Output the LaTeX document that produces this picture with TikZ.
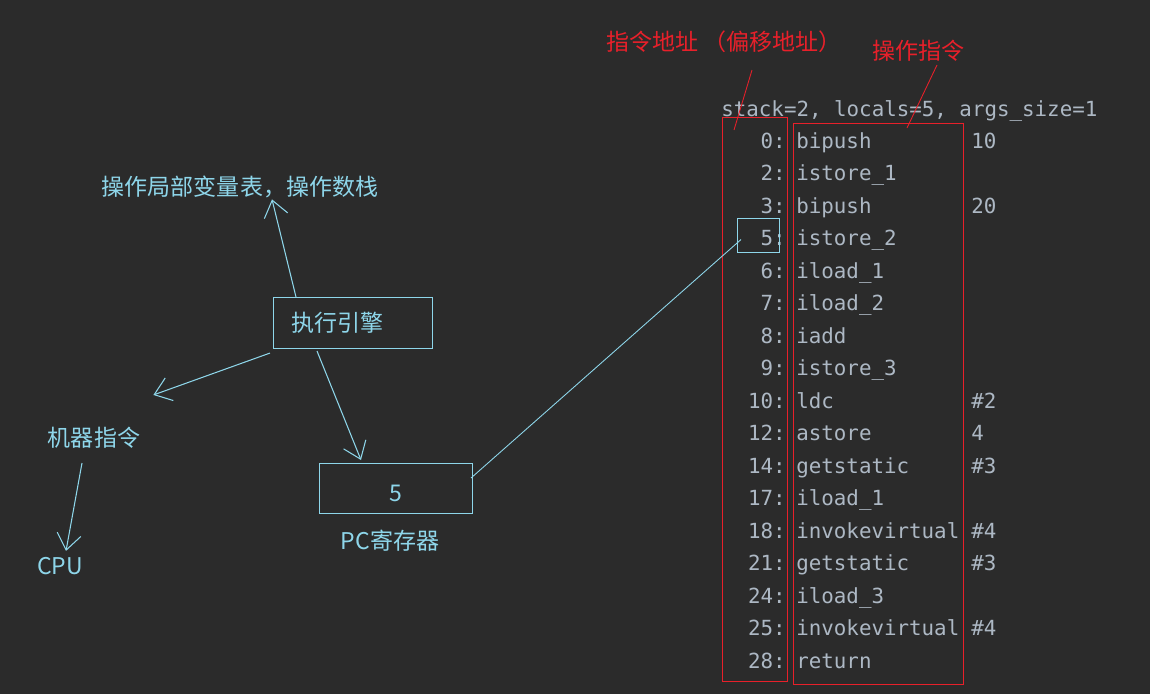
\documentclass[tikz,border=0pt]{standalone}
\usepackage{fontspec}
\setmainfont{Noto Sans CJK SC}
\setmonofont{DejaVu Sans Mono}
\usetikzlibrary{arrows.meta}
\definecolor{bgdark}{HTML}{2B2B2B}
\definecolor{skyline}{HTML}{8ED6EA}
\definecolor{notered}{HTML}{E8202A}
\definecolor{codegray}{HTML}{ADB8C4}
\tikzset{
  cjktext/.style={text=skyline, font=\fontsize{13.1}{15}\selectfont, inner sep=0pt},
  redtext/.style={text=notered, font=\fontsize{13.1}{15}\selectfont, inner sep=0pt},
  codetext/.style={text=codegray, font=\ttfamily\fontsize{11.85}{14}\selectfont, inner sep=0pt},
  skybox/.style={draw=skyline, line width=0.6pt, inner sep=0pt},
  redframe/.style={draw=notered, line width=0.6pt, inner sep=0pt},
  redline/.style={draw=notered, line width=0.5pt},
  skyline/.style={draw=skyline, line width=0.6pt},
  skyarrow/.style={skyline, -{Straight Barb[length=0.32cm,width=0.48cm]}},
}
\begin{document}
\begin{tikzpicture}[x=0.02cm, y=-0.02cm]
  % Background
  \fill [bgdark] (0,0) rectangle (1150,694);
  \useasboundingbox (0,0) rectangle (1150,694);

  % Drawing labels on the left
  \node [cjktext] (table) at (240,187) {操作局部变量表，操作数栈};
  \node [cjktext] (machine) at (94,438) {机器指令};
  \node [cjktext] (cpu) at (60,566) {CPU};
  \node [cjktext] (pclabel) at (390,541) {PC寄存器};

  % Drawing box engine and box pc
  \node [skybox, anchor=north west, minimum height=1.02cm, text width=2.46cm,
         inner xsep=0.36cm, align=left, font=\fontsize{13.1}{15}\selectfont,
         text=skyline] (engine) at (273,297) {执行引擎};
  \node [skybox, anchor=north west, minimum width=3.06cm, minimum height=1.0cm,
         text height=0.53cm, font=\fontsize{13.1}{15}\selectfont, text=skyline]
         (pc) at (319,463) {5};

  % Drawing arrows from engine
  \draw [skyarrow] ([shift={(23,0)}]engine.north west) -- ([shift={(32,1)}]table.south);
  \draw [skyarrow] ([shift={(-3,4)}]engine.south west) -- ([shift={(13,-32)}]machine.north east);
  \draw [skyarrow] ([shift={(44,2)}]engine.south west) -- ([shift={(42,-3)}]pc.north west);
  \draw [skyarrow] ([shift={(-12,14)}]machine.south) -- ([shift={(6,-6)}]cpu.north);

  % Drawing red titles
  \node [redtext, anchor=west] (addrlabel) at (606,42) {指令地址 （偏移地址）};
  \node [redtext, anchor=west] (oplabel) at (872,51) {操作指令};

  % Drawing bytecode listing
  \node [codetext, anchor=base west] (header) at (721,116) {stack=2, locals=5, args\_size=1};
  \foreach \n/\ins/\opnd [count=\i] in {0/bipush/10, 2/istore\_1/, 3/bipush/20,
      5/istore\_2/, 6/iload\_1/, 7/iload\_2/, 8/iadd/, 9/istore\_3/, 10/ldc/\#2,
      12/astore/4, 14/getstatic/\#3, 17/iload\_1/, 18/invokevirtual/\#4,
      21/getstatic/\#3, 24/iload\_3/, 25/invokevirtual/\#4, 28/return/}{
    \node [codetext, anchor=base east] (addr\i) at (786,{148+(\i-1)*32.5}) {\n:};
    \node [codetext, anchor=base west] (op\i) at (796,{148+(\i-1)*32.5}) {\ins};
    \node [codetext, anchor=base west] (arg\i) at (971,{148+(\i-1)*32.5}) {\opnd};
  }

  % Drawing frames round the columns
  \node [redframe, anchor=north west, minimum width=1.3cm, minimum height=11.28cm,
         line width=0.4pt] (addrbox) at (722,117) {};
  \node [redframe, anchor=north west, minimum width=3.4cm, minimum height=11.22cm]
         (opbox) at (793,123) {};
  \draw [redline] ([shift={(146,28)}]addrlabel.west) -- ([shift={(12,13)}]addrbox.north west);
  \draw [redline] ([shift={(65,14)}]oplabel.west) -- ([shift={(114,5)}]opbox.north west);

  % Marking current instruction and linking pc
  \node [skybox, anchor=north west, minimum width=0.84cm, minimum height=0.68cm]
         (slot) at (737,218) {};
  \draw [skyline, line width=0.5pt] ([shift={(-2,15)}]pc.north east) -- ([shift={(4,4)}]slot.west);
\end{tikzpicture}
\end{document}
